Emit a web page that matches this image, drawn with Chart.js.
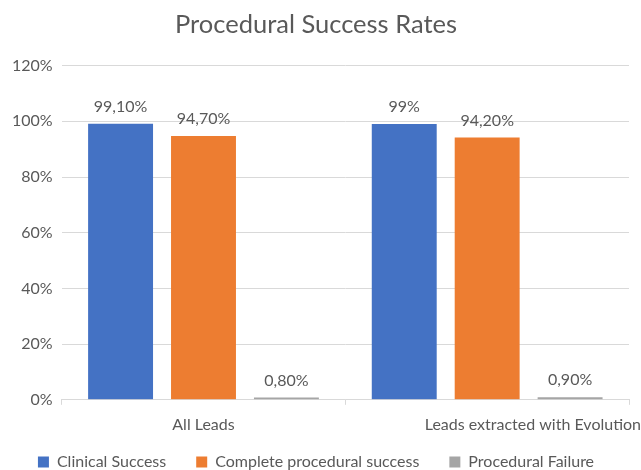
<!DOCTYPE html>
<html>
<head>
<meta charset="utf-8">
<script src="https://cdn.jsdelivr.net/npm/chart.js@4/dist/chart.umd.min.js"></script>
<style>
  html, body { margin: 0; padding: 0; background: #ffffff; }
  #wrap { width: 641px; height: 470px; position: relative; }
</style>
</head>
<body>
<div id="wrap"><canvas id="chart"></canvas></div>
<script>
// Procedure groups along the x axis
const categories = ['All Leads', 'Leads extracted with Evolution'];

// Rates in percent for each outcome
const clinicalSuccess = [99.1, 99];
const completeProceduralSuccess = [94.7, 94.2];
const proceduralFailure = [0.8, 0.9];

// Y axis ticks (percent)
const yTicks = [0, 20, 40, 60, 80, 100, 120];

const FONT = 'Lato, "Open Sans", sans-serif';
const TEXT = '#595959';

// "99,10%" style labels with a decimal comma; whole numbers stay short
function pct(v) {
  if (Number.isInteger(v)) return v + '%';
  return v.toFixed(2).replace('.', ',') + '%';
}

// Writes each bar's value just above it
const valueLabels = {
  id: 'valueLabels',
  afterDatasetsDraw(chart) {
    const ctx = chart.ctx;
    ctx.save();
    ctx.font = '16px ' + FONT;
    ctx.fillStyle = TEXT;
    ctx.textAlign = 'center';
    ctx.textBaseline = 'middle';
    chart.data.datasets.forEach((ds, di) => {
      chart.getDatasetMeta(di).data.forEach((bar, i) => {
        ctx.fillText(pct(ds.data[i]), bar.x, bar.y - 17);
      });
    });
    ctx.restore();
  }
};

// Category names under the axis; the long last name runs out to the right edge
const categoryLabels = {
  id: 'categoryLabels',
  afterDraw(chart) {
    const ctx = chart.ctx;
    const x = chart.scales.x;
    ctx.save();
    ctx.font = '16px ' + FONT;
    ctx.fillStyle = TEXT;
    ctx.textBaseline = 'middle';
    ctx.textAlign = 'center';
    const y = chart.chartArea.bottom + 25;
    categories.forEach((name, i) => {
      const w = ctx.measureText(name).width;
      let cx = x.getPixelForValue(i);
      if (i === categories.length - 1) cx = Math.max(cx, chart.width - w / 2);
      ctx.fillText(name, cx, y);
    });
    ctx.restore();
  }
};

new Chart(document.getElementById('chart'), {
  type: 'bar',
  data: {
    labels: categories,
    datasets: [
      { label: 'Clinical Success', data: clinicalSuccess, backgroundColor: '#4472C4' },
      { label: 'Complete procedural success', data: completeProceduralSuccess, backgroundColor: '#ED7D31' },
      { label: 'Procedural Failure', data: proceduralFailure, backgroundColor: '#A5A5A5' }
    ]
  },
  options: {
    responsive: true,
    maintainAspectRatio: false,
    animation: false,
    events: [],
    layout: { padding: { left: 3, right: 12, top: 0, bottom: -10 } },
    datasets: {
      bar: { categoryPercentage: 0.877, barPercentage: 0.783 }
    },
    plugins: {
      title: {
        display: true,
        text: 'Procedural Success Rates',
        color: TEXT,
        font: { family: FONT, size: 25.5, weight: 'normal' },
        padding: { top: 9, bottom: 26 }
      },
      legend: {
        position: 'bottom',
        labels: {
          color: TEXT,
          font: { family: FONT, size: 16 },
          boxWidth: 11,
          boxHeight: 11,
          padding: 10,
          // wider gaps between the legend entries
          generateLabels(chart) {
            const items = Chart.defaults.plugins.legend.labels.generateLabels(chart);
            items.forEach((it, i) => {
              if (i < items.length - 1) it.text += '\u2003\u2002';
            });
            return items;
          }
        }
      },
      tooltip: { enabled: false }
    },
    scales: {
      x: {
        grid: {
          offset: true,
          drawOnChartArea: false,
          drawTicks: true,
          tickLength: 5,
          color: '#d9d9d9'
        },
        border: { display: true, color: '#d9d9d9' },
        ticks: {
          color: 'transparent',
          font: { family: FONT, size: 16 },
          padding: 10,
          maxRotation: 0,
          minRotation: 0,
          autoSkip: false
        }
      },
      y: {
        min: 0,
        max: 120,
        afterBuildTicks(scale) {
          scale.ticks = yTicks.map(v => ({ value: v }));
        },
        grid: { color: '#d9d9d9', drawTicks: false },
        border: { display: false },
        ticks: {
          color: TEXT,
          font: { family: FONT, size: 16 },
          padding: 9,
          callback: v => v + '%'
        }
      }
    }
  },
  plugins: [valueLabels, categoryLabels]
});
</script>
</body>
</html>
